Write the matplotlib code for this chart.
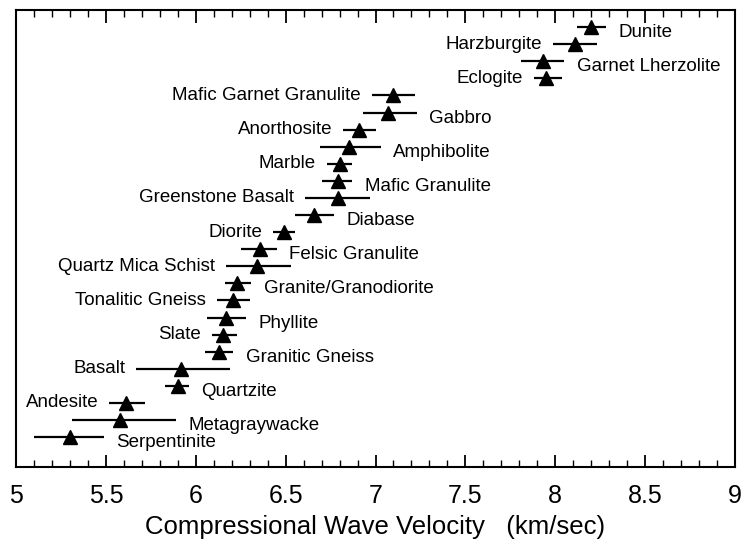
import numpy as np
import matplotlib
matplotlib.use("Agg")
import matplotlib.pyplot as plt
from matplotlib.ticker import MultipleLocator

plt.rcParams['font.family'] = ['Liberation Sans', 'DejaVu Sans']

# rock types, top to bottom
rocks = ["Dunite", "Harzburgite", "Garnet Lherzolite", "Eclogite",
         "Mafic Garnet Granulite", "Gabbro", "Anorthosite", "Amphibolite",
         "Marble", "Mafic Granulite", "Greenstone Basalt", "Diabase",
         "Diorite", "Felsic Granulite", "Quartz Mica Schist",
         "Granite/Granodiorite", "Tonalitic Gneiss", "Phyllite", "Slate",
         "Granitic Gneiss", "Basalt", "Quartzite", "Andesite",
         "Metagraywacke", "Serpentinite"]
vp = [8.20, 8.11, 7.93, 7.95, 7.10, 7.07, 6.91, 6.85, 6.80, 6.79, 6.79, 6.66,
      6.49, 6.36, 6.34, 6.23, 6.21, 6.17, 6.15, 6.13, 5.92, 5.90, 5.61, 5.58, 5.30]
err_lo = [0.08, 0.12, 0.12, 0.07, 0.12, 0.14, 0.09, 0.16, 0.07, 0.09, 0.18, 0.11,
          0.06, 0.11, 0.17, 0.07, 0.09, 0.11, 0.06, 0.08, 0.25, 0.07, 0.09, 0.27, 0.20]
err_hi = [0.08, 0.12, 0.12, 0.09, 0.12, 0.16, 0.09, 0.18, 0.07, 0.08, 0.18, 0.11,
          0.06, 0.09, 0.19, 0.08, 0.09, 0.11, 0.08, 0.08, 0.27, 0.06, 0.11, 0.31, 0.19]
# which side of the bar the name goes on
side = ["R", "L", "R", "L", "L", "R", "L", "R", "L", "R", "L", "R", "L",
        "R", "L", "R", "L", "R", "L", "R", "L", "R", "L", "R", "R"]

ypos = np.arange(len(rocks))

fig = plt.figure(figsize=(7.42, 5.49), dpi=100)
ax = fig.add_axes([16/742, 1 - 467/549, 719/742, 457/549])

ax.errorbar(vp, ypos, xerr=[err_lo, err_hi], fmt='^', color='black',
            ms=10, elinewidth=1.6, capsize=0)

for i, name in enumerate(rocks):
    if side[i] == "R":
        ax.annotate(name, (vp[i] + err_hi[i], ypos[i]), xytext=(9, -4),
                    textcoords='offset points', ha='left', va='center', fontsize=13.5)
    else:
        ax.annotate(name, (vp[i] - err_lo[i], ypos[i]), xytext=(-8, 0),
                    textcoords='offset points', ha='right', va='center', fontsize=13.5)

ax.set_xlim(5, 9)
ax.set_ylim(25.75, -1)
ax.xaxis.set_minor_locator(MultipleLocator(0.1))
ax.set_xticks(np.arange(5, 9.01, 0.5))
ax.set_xticklabels(["5", "5.5", "6", "6.5", "7", "7.5", "8", "8.5", "9"])
ax.tick_params(axis='x', which='both', direction='in', top=True, bottom=True,
               labelsize=18, pad=12)
ax.tick_params(axis='x', which='major', length=9, width=1.3)
ax.tick_params(axis='x', which='minor', length=5, width=1.0)
ax.set_yticks([])
for s in ax.spines.values():
    s.set_linewidth(1.5)

ax.set_xlabel("Compressional Wave Velocity   (km/sec)", fontsize=18.5, labelpad=5)

fig.savefig("out.png", dpi=100)
